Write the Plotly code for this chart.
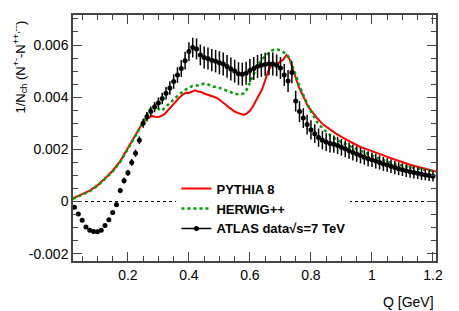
import plotly.graph_objects as go

# ---------------- data (values in units of 1e-3) ----------------
atlas_q = [0.025, 0.0375, 0.05, 0.0625, 0.075, 0.0875, 0.1, 0.1125, 0.125, 0.1375,
           0.15, 0.1625, 0.175, 0.1875, 0.2, 0.2125, 0.225, 0.2375, 0.25, 0.2625,
           0.275, 0.2875, 0.3, 0.3125, 0.325, 0.3375, 0.35, 0.3625, 0.375, 0.3875,
           0.4, 0.4125, 0.425, 0.4375, 0.45, 0.4625, 0.475, 0.4875, 0.5, 0.5125,
           0.525, 0.5375, 0.55, 0.5625, 0.575, 0.5875, 0.6, 0.6125, 0.625, 0.6375,
           0.65, 0.6625, 0.675, 0.6875, 0.7, 0.7125, 0.725, 0.7375, 0.75, 0.7625,
           0.775, 0.7875, 0.8, 0.8125, 0.825, 0.8375, 0.85, 0.8625, 0.875, 0.8875,
           0.9, 0.9125, 0.925, 0.9375, 0.95, 0.9625, 0.975, 0.9875, 1.0, 1.0125,
           1.025, 1.0375, 1.05, 1.0625, 1.075, 1.0875, 1.1, 1.1125, 1.125, 1.1375,
           1.15, 1.1625, 1.175, 1.1875, 1.2]
atlas_val = [-0.22, -0.48, -0.72, -0.98, -1.10, -1.15, -1.16, -1.10, -0.92, -0.70,
             -0.42, -0.12, 0.42, 0.80, 1.10, 1.50, 1.85, 2.35, 3.00, 3.25,
             3.45, 3.62, 3.78, 3.95, 4.15, 4.35, 4.60, 4.85, 5.10, 5.40,
             5.75, 5.90, 5.85, 5.62, 5.52, 5.48, 5.42, 5.38, 5.32, 5.27,
             5.18, 5.08, 5.00, 4.90, 4.88, 4.92, 5.02, 5.10, 5.18, 5.22,
             5.26, 5.28, 5.27, 5.22, 5.12, 4.85, 4.62, 4.95, 3.85, 3.45,
             3.20, 2.95, 2.75, 2.60, 2.45, 2.35, 2.28, 2.22, 2.20, 2.15,
             2.08, 2.02, 1.95, 1.88, 1.82, 1.76, 1.70, 1.64, 1.60, 1.55,
             1.50, 1.44, 1.40, 1.35, 1.30, 1.26, 1.22, 1.18, 1.14, 1.11,
             1.08, 1.05, 1.02, 1.00, 0.97]
atlas_err = [0.04, 0.04, 0.05, 0.05, 0.05, 0.05, 0.05, 0.06, 0.06, 0.07,
             0.08, 0.09, 0.10, 0.11, 0.12, 0.13, 0.14, 0.15, 0.17, 0.18,
             0.19, 0.20, 0.21, 0.22, 0.24, 0.26, 0.28, 0.30, 0.32, 0.34,
             0.36, 0.38, 0.40, 0.40, 0.42, 0.42, 0.43, 0.43, 0.44, 0.44,
             0.44, 0.44, 0.44, 0.44, 0.44, 0.44, 0.44, 0.44, 0.44, 0.44,
             0.44, 0.44, 0.44, 0.42, 0.42, 0.42, 0.42, 0.42, 0.40, 0.40,
             0.38, 0.38, 0.37, 0.36, 0.35, 0.35, 0.34, 0.34, 0.33, 0.33,
             0.32, 0.32, 0.31, 0.31, 0.30, 0.30, 0.29, 0.29, 0.28, 0.28,
             0.27, 0.27, 0.26, 0.26, 0.25, 0.25, 0.24, 0.24, 0.23, 0.23,
             0.22, 0.22, 0.21, 0.21, 0.20]

pythia_q = [0.02, 0.05, 0.075, 0.1, 0.125, 0.15, 0.175, 0.2, 0.225, 0.24,
            0.25, 0.26, 0.27, 0.28, 0.29, 0.3, 0.31, 0.32, 0.33, 0.34,
            0.35, 0.36, 0.37, 0.38, 0.39, 0.4, 0.41, 0.42, 0.43, 0.44,
            0.45, 0.46, 0.47, 0.48, 0.49, 0.5, 0.51, 0.52, 0.53, 0.54,
            0.55, 0.56, 0.57, 0.58, 0.59, 0.6, 0.61, 0.62, 0.63, 0.64,
            0.65, 0.66, 0.67, 0.68, 0.69, 0.7, 0.71, 0.72, 0.73, 0.74,
            0.75, 0.76, 0.77, 0.78, 0.79, 0.8, 0.82, 0.84, 0.86, 0.88,
            0.9, 0.92, 0.94, 0.96, 0.98, 1.0, 1.02, 1.04, 1.06, 1.08,
            1.1, 1.12, 1.14, 1.16, 1.18, 1.2, 1.21]
pythia_val = [0.12, 0.28, 0.42, 0.62, 0.88, 1.18, 1.55, 2.05, 2.55, 2.90,
              3.05, 3.15, 3.22, 3.28, 3.25, 3.24, 3.28, 3.35, 3.48, 3.62,
              3.75, 3.88, 4.00, 4.10, 4.17, 4.16, 4.20, 4.26, 4.22, 4.20,
              4.14, 4.10, 4.08, 4.02, 3.98, 3.90, 3.82, 3.72, 3.62, 3.52,
              3.45, 3.40, 3.35, 3.32, 3.38, 3.48, 3.65, 3.85, 4.05, 4.30,
              4.65, 5.00, 5.20, 5.28, 5.30, 5.35, 5.45, 5.62, 5.45, 5.10,
              4.70, 4.40, 4.15, 3.90, 3.65, 3.50, 3.20, 2.95, 2.78, 2.62,
              2.48, 2.35, 2.22, 2.10, 2.02, 1.94, 1.86, 1.76, 1.67, 1.58,
              1.50, 1.43, 1.36, 1.30, 1.23, 1.17, 1.15]

herwig_q = [0.02, 0.05, 0.075, 0.1, 0.125, 0.15, 0.175, 0.2, 0.225, 0.25,
            0.26, 0.27, 0.28, 0.29, 0.3, 0.31, 0.32, 0.33, 0.34, 0.35,
            0.36, 0.37, 0.38, 0.39, 0.4, 0.41, 0.42, 0.43, 0.44, 0.45,
            0.46, 0.47, 0.48, 0.49, 0.5, 0.51, 0.52, 0.53, 0.54, 0.55,
            0.56, 0.57, 0.58, 0.59, 0.6, 0.61, 0.62, 0.63, 0.64, 0.65,
            0.66, 0.67, 0.68, 0.69, 0.7, 0.71, 0.72, 0.73, 0.74, 0.75,
            0.76, 0.77, 0.78, 0.79, 0.8, 0.82, 0.84, 0.86, 0.88, 0.9,
            0.92, 0.94, 0.96, 0.98, 1.0, 1.02, 1.04, 1.06, 1.08, 1.1,
            1.12, 1.14, 1.16, 1.18, 1.2]
herwig_val = [0.10, 0.26, 0.40, 0.60, 0.86, 1.15, 1.52, 2.00, 2.52, 3.05,
              3.30, 3.50, 3.62, 3.70, 3.55, 3.48, 3.58, 3.70, 3.80, 3.90,
              4.02, 4.12, 4.22, 4.30, 4.35, 4.42, 4.45, 4.45, 4.48, 4.52,
              4.50, 4.45, 4.40, 4.40, 4.36, 4.30, 4.28, 4.22, 4.18, 4.12,
              4.10, 4.10, 4.15, 4.30, 4.55, 4.85, 5.10, 5.30, 5.45, 5.58,
              5.68, 5.78, 5.82, 5.83, 5.80, 5.72, 5.65, 5.50, 5.20, 4.85,
              4.50, 4.20, 3.95, 3.70, 3.45, 3.05, 2.78, 2.58, 2.40, 2.27,
              2.15, 2.05, 1.95, 1.85, 1.75, 1.65, 1.56, 1.48, 1.42, 1.37,
              1.32, 1.28, 1.24, 1.20, 1.18]

scale = 1e-3
y_tickvals = [-0.002, 0.0, 0.002, 0.004, 0.006]
y_ticktext = ["-0.002", "0", "0.002", "0.004", "0.006"]
x_tickvals = [0.2, 0.4, 0.6, 0.8, 1.0, 1.2]
x_ticktext = ["0.2", "0.4", "0.6", "0.8", "1", "1.2"]

FONT = "Liberation Sans, Arial, Helvetica, sans-serif"

fig = go.Figure()

fig.add_trace(go.Scatter(
    x=pythia_q, y=[v * scale for v in pythia_val], mode="lines",
    line=dict(color="#ff0000", width=2),
    name="<b>PYTHIA 8</b>", legendgroup="a"))

fig.add_trace(go.Scatter(
    x=herwig_q, y=[v * scale for v in herwig_val], mode="lines",
    line=dict(color="#00a000", width=2.5, dash="dot"),
    name="<b>HERWIG++</b>", legendgroup="b"))

fig.add_trace(go.Scatter(
    x=atlas_q, y=[v * scale for v in atlas_val], mode="markers",
    marker=dict(color="black", size=5),
    error_y=dict(type="data", array=[e * scale for e in atlas_err],
                 color="black", thickness=1.5, width=0),
    showlegend=False, legendgroup="c"))

# legend entry for the data (line + marker symbol)
fig.add_trace(go.Scatter(
    x=[None], y=[None], mode="lines+markers",
    line=dict(color="black", width=1.5), marker=dict(color="black", size=5),
    name="<b>ATLAS data\u221as=7 TeV</b>", legendgroup="c"))

fig.add_shape(type="line", xref="x", yref="y", x0=0.02, x1=1.21, y0=0, y1=0,
              line=dict(color="black", width=1, dash="3px,3px"), layer="below")

axis_common = dict(
    showgrid=False, zeroline=False, ticks="inside", ticklen=9, tickwidth=1,
    tickcolor="#444", showline=True, linecolor="#444", linewidth=1.5,
    mirror="ticks", tickfont=dict(family=FONT, size=14, color="black"),
)

fig.update_xaxes(range=[0.02, 1.21], tickvals=x_tickvals, ticktext=x_ticktext,
                 minor=dict(ticks="inside", ticklen=5, dtick=0.05, tick0=0,
                            tickcolor="#444"),
                 **axis_common)
fig.update_yaxes(range=[-0.00228, 0.00715], tickvals=y_tickvals, ticktext=y_ticktext,
                 minor=dict(ticks="inside", ticklen=5, dtick=0.0005, tick0=0,
                            tickcolor="#444"),
                 **axis_common)

fig.add_annotation(text="Q [GeV]", xref="paper", yref="paper", x=1.0, y=-0.125,
                   xanchor="right", yanchor="top", showarrow=False,
                   font=dict(family=FONT, size=14, color="black"))
fig.add_annotation(text="1/N<sub>ch</sub> (N<sup>+-</sup>-N<sup>++,--</sup>)",
                   xref="paper", yref="paper", x=-0.145, y=0.985,
                   xanchor="center", yanchor="top", textangle=-90, showarrow=False,
                   font=dict(family=FONT, size=13, color="black"))

fig.update_layout(
    width=459, height=311,
    margin=dict(l=73, r=23, t=15, b=50),
    paper_bgcolor="white", plot_bgcolor="white",
    showlegend=True,
    legend=dict(x=0.285, y=0.355, xanchor="left", yanchor="top",
                bgcolor="white", borderwidth=0, tracegroupgap=0,
                traceorder="grouped",
                font=dict(family=FONT, size=13, color="black")),
)

fig.write_html("out.html", config={"displayModeBar": False},
               post_script="document.body.style.margin='0px';"
                           "document.body.style.overflow='hidden';")
